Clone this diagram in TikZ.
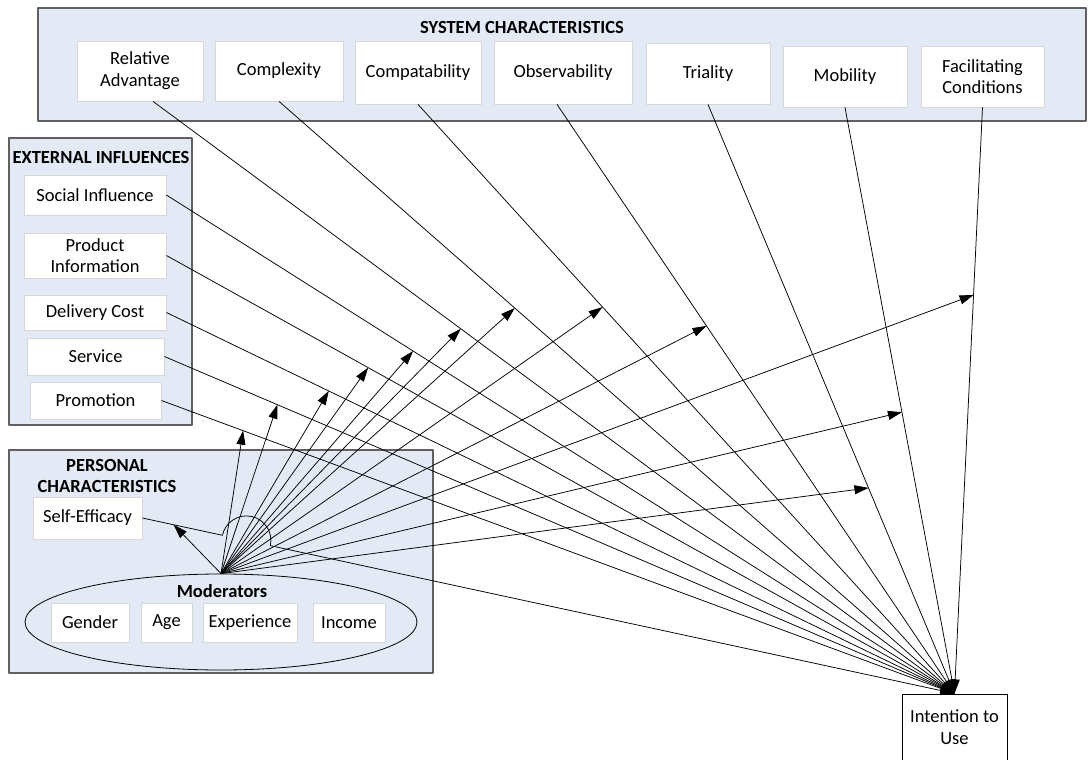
\documentclass[tikz,border=0pt]{standalone}
\usepackage{fontspec}
\setmainfont{Carlito}
\usetikzlibrary{arrows.meta,shapes.geometric,calc}
\definecolor{regionblue}{RGB}{228,234,245}
\definecolor{regionedge}{RGB}{96,96,96}
\definecolor{boxedge}{RGB}{214,214,214}
\begin{document}
\begin{tikzpicture}[x=1pt,y=-1pt,line join=round,>={Triangle[length=14pt,width=9pt]},font=\fontsize{18.5}{21.7}\selectfont]
	\tikzset{region/.style={draw=regionedge,fill=regionblue,line width=1.3pt},
		factor/.style={draw=boxedge,fill=white,line width=0.8pt,align=center,inner sep=0pt},
		title/.style={font=\fontsize{18.5}{21.7}\selectfont\bfseries,align=center},
		link/.style={->,line width=0.75pt}}
	\useasboundingbox (0,0) rectangle (1088,760);
	% regions
	\draw[region] (38,8) rectangle (1086,121);
	\draw[region] (9,138) rectangle (192,425);
	\draw[region] (9,450) rectangle (433,673);
	\node[title] (systitle) at (522,27) {SYSTEM CHARACTERISTICS};
	\node[title] (exttitle) at (101,158) {EXTERNAL INFLUENCES};
	\node[title] (pertitle) at (107,476) {PERSONAL\\CHARACTERISTICS};
	% system characteristics
	\node[factor,minimum width=126pt,minimum height=60pt] (ra) at (140,71) {Relative\\Advantage};
	\node[factor,minimum width=128pt,minimum height=60pt] (cx) at (279,71) {Complexity};
	\node[factor,minimum width=126pt,minimum height=63pt] (cp) at (418,72.5) {Compatability};
	\node[factor,minimum width=138pt,minimum height=63pt] (ob) at (563,72.5) {Observability};
	\node[factor,minimum width=124pt,minimum height=61pt] (tr) at (708,73.5) {Triality};
	\node[factor,minimum width=124pt,minimum height=61pt] (mo) at (845,76.5) {Mobility};
	\node[factor,minimum width=123pt,minimum height=61pt] (fc) at (982.5,76.5) {Facilitating\\Conditions};
	% external influences
	\node[factor,minimum width=142pt,minimum height=40pt] (si) at (95,195) {Social Influence};
	\node[factor,minimum width=142pt,minimum height=45pt] (pi) at (95,255.5) {Product\\Information};
	\node[factor,minimum width=142pt,minimum height=35pt] (dc) at (95,312.5) {Delivery Cost};
	\node[factor,minimum width=137pt,minimum height=37pt] (sv) at (95.5,356.5) {Service};
	\node[factor,minimum width=131pt,minimum height=37pt] (pr) at (95.5,400.5) {Promotion};
	% personal characteristics
	\node[factor,minimum width=109pt,minimum height=42pt] (se) at (87.5,518) {Self-Efficacy};
	\node[draw,ellipse,line width=0.8pt,minimum width=392pt,minimum height=96pt,inner sep=0pt] (moderators) at (221,622) {};
	\node[title] (modtitle) at (222,591) {Moderators};
	\node[factor,minimum width=78pt,minimum height=39pt] (gender) at (90,622.5) {Gender};
	\node[factor,minimum width=51pt,minimum height=39pt] (age) at (166.5,622.5) {Age};
	\node[factor,minimum width=94pt,minimum height=39pt] (exp) at (250,622.5) {Experience};
	\node[factor,minimum width=72pt,minimum height=39pt] (income) at (349,622.5) {Income};
	% outcome
	\node[draw,fill=white,line width=1pt,align=center,minimum width=105pt,minimum height=66pt,inner sep=0pt] (intent) at (954.5,727) {Intention to\\Use};
	% paths to intention
	\draw[link] ([xshift=13pt]ra.south) -- coordinate[pos=0.384] (mra) (intent.north);
	\draw[link] (cx.south) -- coordinate[pos=0.349] (mcx) (intent.north);
	\draw[link] (cp.south) -- coordinate[pos=0.344] (mcp) (intent.north);
	\draw[link] ([xshift=-6pt]ob.south) -- coordinate[pos=0.376] (mob) (intent.north);
	\draw[link] (tr.south) -- coordinate[pos=0.651] (mtr) (intent.north);
	\draw[link] (mo.south) -- coordinate[pos=0.52] (mmo) (intent.north);
	\draw[link] (fc.south) -- coordinate[pos=0.32] (mfc) (intent.north);
	\draw[link] (si.east) -- coordinate[pos=0.313] (msi) (intent.north);
	\draw[link] (pi.east) -- coordinate[pos=0.256] (mpi) (intent.north);
	\draw[link] (dc.east) -- coordinate[pos=0.206] (mdc) (intent.north);
	\draw[link] (sv.east) -- coordinate[pos=0.143] (msv) (intent.north);
	\draw[link] (pr.east) -- coordinate[pos=0.103] (mpr) (intent.north);
	\draw[link] (se.east) -- coordinate[pos=0.39] (mse) ($(se.east)!0.0985!(intent.north)$)
		arc[start angle=192.2,end angle=372.2,radius=24.55] -- (intent.north);
	% moderating effects
	\foreach \tip in {mse,mpr,msv,mdc,mpi,msi,mra,mcx,mcp,mob,mtr,mmo,mfc}
		\draw[link] (moderators.north) -- (\tip);
\end{tikzpicture}
\end{document}
